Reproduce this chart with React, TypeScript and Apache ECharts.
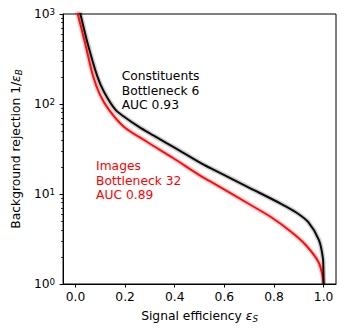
import React, { useEffect, useRef } from "react";
import * as echarts from "echarts";

// Tick values
const xTickValues = [0, 0.2, 0.4, 0.6, 0.8, 1.0];
const yMajorTicks = [1, 10, 100, 1000];
const yMinorTicks = [2, 3, 4, 5, 6, 7, 8, 9, 20, 30, 40, 50, 60, 70, 80, 90, 200, 300, 400, 500, 600, 700, 800, 900];

// Constituents, bottleneck 6 (black)
const constituentsEff = [0.0064, 0.0199, 0.0489, 0.0874, 0.1152, 0.1617, 0.1947, 0.2543, 0.3139, 0.3655, 0.4331, 0.5125, 0.5642, 0.6992, 0.8303, 0.8899, 0.9376, 0.9813, 0.9972, 0.9992, 1.0];
const constituentsRej = [1430, 1000, 473, 205, 136, 85.8, 72.6, 56, 44.7, 36.9, 28.9, 21.5, 18.2, 11.8, 7.74, 6.23, 4.89, 3.08, 1.94, 1.43, 1.0];

// Images, bottleneck 32 (red)
const imagesEff = [0.0, 0.0091, 0.0385, 0.0715, 0.0993, 0.1351, 0.1947, 0.2861, 0.3933, 0.5125, 0.5642, 0.6992, 0.7906, 0.8701, 0.9297, 0.9793, 0.996, 1.0];
const imagesRej = [1259, 1000, 476, 202, 126, 86, 56, 38.3, 25.1, 15.4, 12.8, 7.74, 5.48, 3.78, 2.68, 1.76, 1.23, 1.0];

const FONT = "DejaVu Sans";
const FS = 12.3;

function pairs(xs: number[], ys: number[]) {
  return xs.map((x, i) => [x, ys[i]]);
}

export default function App() {
  const ref = useRef<HTMLDivElement>(null);
  useEffect(() => {
    if (!ref.current) return;
    const chart = echarts.init(ref.current, null, { renderer: "svg" });
    const lineSeries = (data: number[][], color: string, width: number, opacity: number) => ({
      type: "line",
      data,
      symbol: "none",
      smooth: 0.3,
      silent: true,
      xAxisIndex: 0,
      yAxisIndex: 0,
      lineStyle: { color, width, opacity },
    });
    const cData = pairs(constituentsEff, constituentsRej);
    const iData = pairs(imagesEff, imagesRej);
    chart.setOption({
      animation: false,
      textStyle: { fontFamily: FONT },
      grid: {
        left: 58,
        right: 13,
        top: 14,
        bottom: 49,
        show: true,
        borderColor: "#000",
        borderWidth: 1,
        backgroundColor: "transparent",
      },
      xAxis: {
        type: "value",
        min: -0.05,
        max: 1.05,
        position: "bottom",
        splitLine: { show: false },
        axisLine: { show: true, onZero: false, lineStyle: { color: "#000", width: 1 } },
        axisTick: { show: true, customValues: xTickValues, length: 3.5, lineStyle: { color: "#000" } },
        axisLabel: {
          customValues: xTickValues,
          formatter: (v: number) => v.toFixed(1),
          color: "#000",
          fontSize: FS,
          fontFamily: FONT,
          margin: 7,
        },
        name: "Signal efficiency {e|ε}{s|S}",
        nameLocation: "middle",
        nameGap: 24,
        nameTextStyle: {
          color: "#000",
          fontSize: FS,
          fontFamily: FONT,
          lineHeight: 15,
          rich: {
            e: { fontSize: FS, fontFamily: FONT, fontStyle: "italic", color: "#000", lineHeight: 15 },
            s: { fontSize: 8.7, fontFamily: FONT, fontStyle: "italic", color: "#000", verticalAlign: "bottom", lineHeight: 10 },
          },
        },
      },
      yAxis: [
        {
          type: "log",
          logBase: 10,
          min: 1,
          max: 1000,
          position: "left",
          splitLine: { show: false },
          axisLine: { show: true, onZero: false, lineStyle: { color: "#000", width: 1 } },
          axisTick: { show: true, customValues: yMajorTicks, length: 3.5, lineStyle: { color: "#000" } },
          axisLabel: {
            customValues: yMajorTicks,
            formatter: (v: number) => `{b|10}{s|${Math.round(Math.log10(v))}}`,
            margin: 8,
            rich: {
              b: { fontSize: FS, fontFamily: FONT, color: "#000", lineHeight: 14 },
              s: { fontSize: 8.7, fontFamily: FONT, color: "#000", verticalAlign: "top", lineHeight: 9 },
            },
          },
          name: "Background rejection 1/{e|ε}{s|B}",
          nameLocation: "middle",
          nameRotate: 90,
          nameGap: 36,
          nameTextStyle: {
            color: "#000",
            fontSize: FS,
            fontFamily: FONT,
            lineHeight: 15,
            rich: {
              e: { fontSize: FS, fontFamily: FONT, fontStyle: "italic", color: "#000", lineHeight: 15 },
              s: { fontSize: 8.7, fontFamily: FONT, fontStyle: "italic", color: "#000", verticalAlign: "bottom", lineHeight: 10 },
            },
          },
        },
        {
          type: "log",
          logBase: 10,
          min: 1,
          max: 1000,
          position: "left",
          splitLine: { show: false },
          axisLine: { show: false, onZero: false },
          axisLabel: { show: false },
          axisTick: { show: true, customValues: yMinorTicks, length: 2, lineStyle: { color: "#000", width: 0.8 } },
        },
      ],
      series: [
        lineSeries(cData, "#000000", 5, 0.18),
        lineSeries(iData, "#ff0000", 5, 0.18),
        lineSeries(iData, "#ff0000", 2, 0.95),
        lineSeries(cData, "#000000", 2, 0.95),
      ],
      graphic: [
        {
          type: "text",
          x: 121.7,
          y: 69.3,
          silent: true,
          style: {
            text: "Constituents\nBottleneck 6\nAUC 0.93",
            fill: "#000",
            font: `${FS}px '${FONT}'`,
            lineHeight: 14.2,
            verticalAlign: "top",
            align: "left",
          },
        },
        {
          type: "text",
          x: 96,
          y: 159.3,
          silent: true,
          style: {
            text: "Images\nBottleneck 32\nAUC 0.89",
            fill: "#ff0000",
            font: `${FS}px '${FONT}'`,
            lineHeight: 14.2,
            verticalAlign: "top",
            align: "left",
          },
        },
      ],
    });
    return () => chart.dispose();
  }, []);
  return (
    <div
      ref={ref}
      style={{ position: "fixed", left: 0, top: 0, width: 349, height: 333, background: "#fff" }}
    />
  );
}
